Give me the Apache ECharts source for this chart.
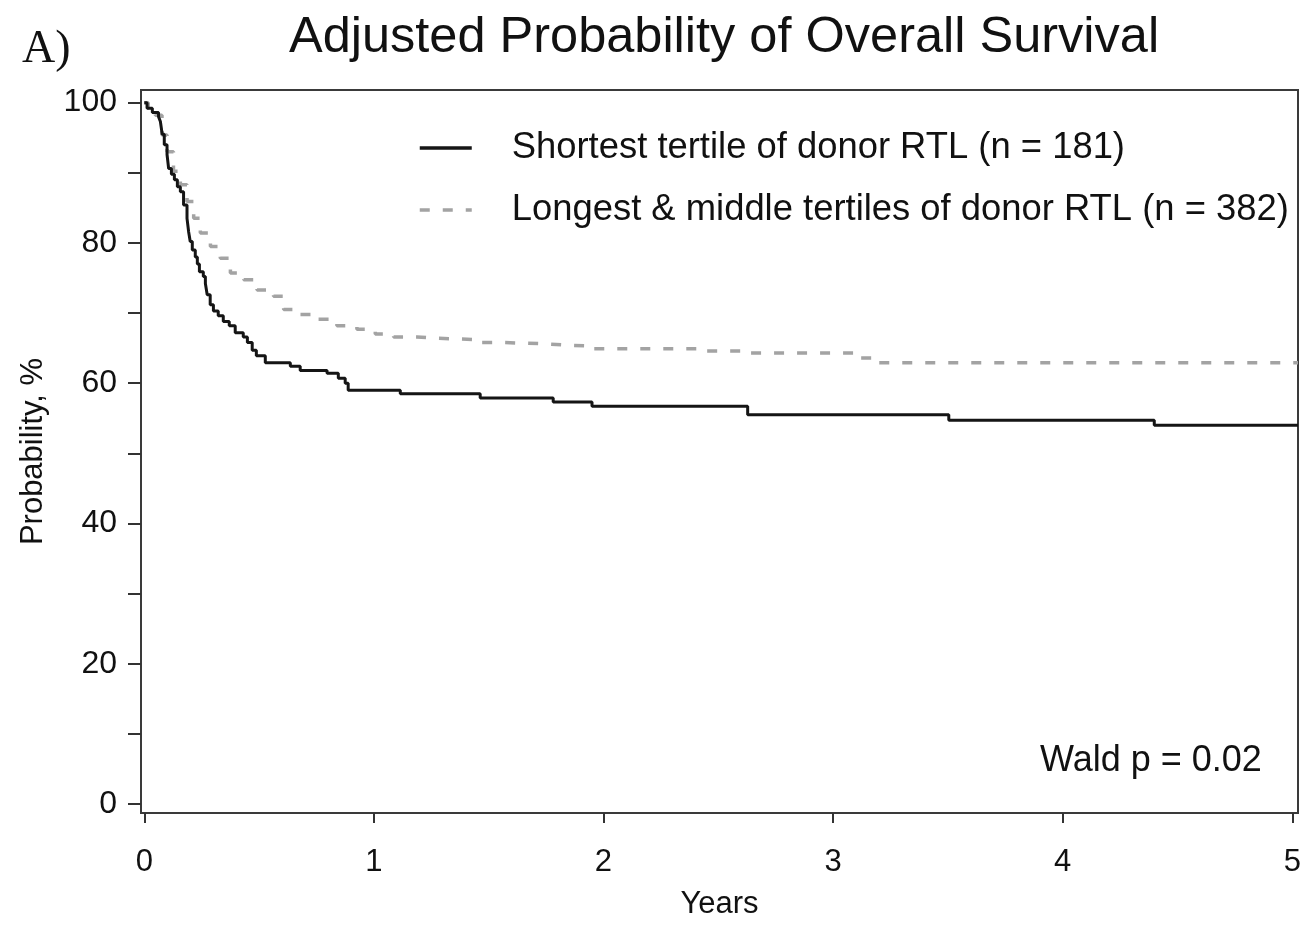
<!DOCTYPE html>
<html>
<head>
<meta charset="utf-8">
<script src="https://cdn.jsdelivr.net/npm/echarts@6/dist/echarts.min.js"></script>
<style>
  html, body { margin: 0; padding: 0; background: #fff; }
  #chart { width: 1308px; height: 925px; }
</style>
</head>
<body>
<div id="chart"></div>
<script>
const FONT = '"Liberation Sans", Arial, sans-serif'

// Shortest tertile of donor RTL: [years, survival %], step changes
const shortestTertile = [
  [0, 100], [0.012, 99.2], [0.035, 98.6], [0.062, 98.0], [0.070, 97.3],
  [0.078, 95.5], [0.087, 94.0], [0.099, 92.6], [0.106, 90.6], [0.118, 89.8],
  [0.131, 89.0], [0.144, 88.0], [0.157, 87.3], [0.171, 85.4], [0.186, 83.5],
  [0.193, 81.6], [0.200, 80.2], [0.209, 79.0], [0.222, 78.0], [0.231, 77.0],
  [0.240, 75.9], [0.257, 75.2], [0.266, 74.2], [0.274, 72.6], [0.287, 71.2],
  [0.301, 70.3], [0.322, 69.6], [0.344, 68.8], [0.370, 68.2], [0.396, 67.2],
  [0.431, 66.6], [0.449, 65.8], [0.470, 64.7], [0.488, 63.9], [0.527, 62.9],
  [0.636, 62.4], [0.679, 61.8], [0.796, 61.4], [0.845, 60.7], [0.875, 60.0],
  [0.888, 59.0], [1.115, 58.5], [1.463, 57.9], [1.781, 57.3], [1.950, 56.7],
  [2.628, 55.5], [3.504, 54.7], [4.399, 54.0], [5.025, 54.0]
]

// Longest & middle tertiles of donor RTL
const longestMiddle = [
  [0, 100], [0.017, 99.2], [0.048, 98.2], [0.077, 95.4], [0.099, 93.0],
  [0.127, 90.2], [0.157, 88.3], [0.186, 85.9], [0.215, 83.5], [0.244, 81.4],
  [0.288, 79.5], [0.331, 77.8], [0.375, 75.7], [0.433, 74.75], [0.491, 73.3],
  [0.563, 72.4], [0.607, 70.5], [0.679, 69.8], [0.752, 69.1], [0.839, 68.2],
  [0.926, 67.7], [1.006, 67.0], [1.086, 66.6], [1.188, 66.4], [1.275, 66.3],
  [1.376, 66.2], [1.463, 65.8], [1.565, 65.6], [1.754, 65.4], [1.855, 65.3],
  [1.943, 64.9], [2.435, 64.6], [2.628, 64.3], [3.105, 63.6], [3.175, 62.9],
  [5.025, 62.9]
]

const xTicks = [0, 1, 2, 3, 4, 5]
const yTicks = [0, 10, 20, 30, 40, 50, 60, 70, 80, 90, 100]
const yLabels = [0, 20, 40, 60, 80, 100]

const chart = echarts.init(document.getElementById('chart'))

chart.setOption({
  backgroundColor: '#fff',
  animation: false,
  textStyle: { fontFamily: FONT },
  title: {
    text: 'Adjusted Probability of Overall Survival',
    left: 284,
    top: 8,
    textStyle: { fontFamily: FONT, fontSize: 50.5, fontWeight: 'normal', color: '#111' }
  },
  legend: {
    orient: 'vertical',
    left: 418,
    top: 130,
    padding: 0,
    itemWidth: 52,
    itemHeight: 34,
    itemGap: 26,
    itemStyle: { opacity: 0 },
    lineStyle: { width: 3.5 },
    textStyle: { fontFamily: FONT, fontSize: 36.4, color: '#111', padding: [0, 0, 0, 35] },
    data: ['Shortest tertile of donor RTL (n = 181)', 'Longest & middle tertiles of donor RTL (n = 382)']
  },
  graphic: [
    {
      type: 'text',
      left: 22,
      top: 27,
      style: { text: 'A)', font: '46px "Liberation Serif", "DejaVu Serif", serif', fill: '#111' }
    },
    {
      type: 'text',
      left: 1040,
      top: 743,
      style: { text: 'Wald p = 0.02', font: '36px ' + FONT, fill: '#111' }
    }
  ],
  grid: {
    left: 141,
    top: 90,
    right: 10,
    bottom: 111,
    show: true,
    borderColor: '#3a3a3a',
    borderWidth: 2
  },
  xAxis: {
    type: 'value',
    min: -0.0144,
    max: 5.025,
    name: 'Years',
    nameLocation: 'middle',
    nameGap: 76,
    nameTextStyle: { fontFamily: FONT, fontSize: 31, color: '#111' },
    axisLine: { show: false, onZero: false },
    splitLine: { show: false },
    axisTick: { show: true, inside: false, customValues: xTicks, length: 10, lineStyle: { color: '#333', width: 2 } },
    axisLabel: { customValues: xTicks, fontSize: 31, color: '#111', margin: 34 }
  },
  yAxis: {
    type: 'value',
    min: -1.28,
    max: 101.8,
    name: 'Probability, %',
    nameLocation: 'middle',
    nameGap: 92,
    nameTextStyle: { fontFamily: FONT, fontSize: 31, color: '#111' },
    axisLine: { show: false, onZero: false },
    splitLine: { show: false },
    axisTick: { show: true, inside: false, customValues: yTicks, length: 13, lineStyle: { color: '#333', width: 2 } },
    axisLabel: { customValues: yLabels, fontSize: 32, color: '#111', margin: 24 }
  },
  series: [
    {
      name: 'Shortest tertile of donor RTL (n = 181)',
      type: 'line',
      step: 'end',
      symbol: 'none',
      data: shortestTertile,
      lineStyle: { color: '#151515', width: 3 },
      itemStyle: { color: '#151515' },
      z: 3
    },
    {
      name: 'Longest & middle tertiles of donor RTL (n = 382)',
      type: 'line',
      step: 'end',
      symbol: 'none',
      data: longestMiddle,
      lineStyle: { color: '#a3a3a3', width: 3.5, type: [10, 13] },
      itemStyle: { color: '#a3a3a3' },
      z: 2
    }
  ]
})
</script>
</body>
</html>
